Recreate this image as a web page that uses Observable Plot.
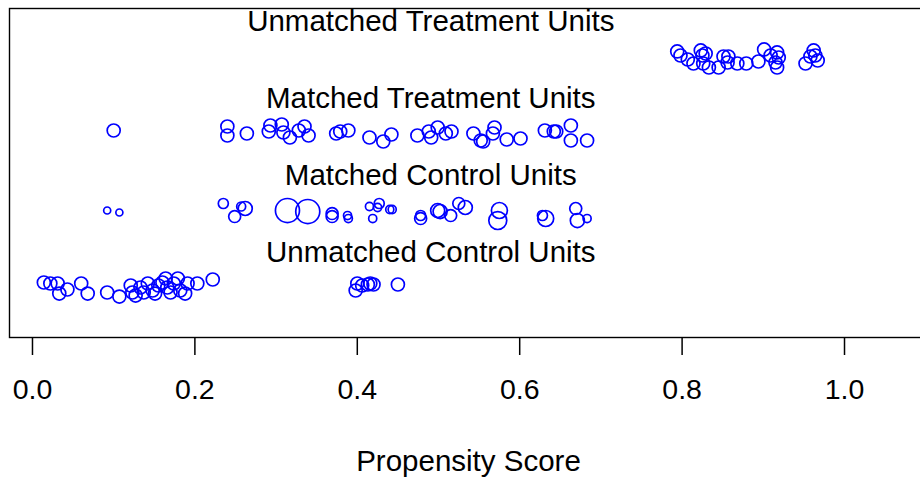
<!DOCTYPE html>
<html><head><meta charset="utf-8">
<script src="https://cdn.jsdelivr.net/npm/d3@7"></script>
<script src="https://cdn.jsdelivr.net/npm/@observablehq/plot@0.6"></script>
<style>
html,body{margin:0;padding:0;overflow:hidden;background:#fff;}
#chart svg{max-width:none !important;display:block;}
#chart svg g[aria-label="x-axis tick"] path{stroke-width:1.5;}
</style></head><body><div id="chart"></div>
<script>
const groupNames = ["Unmatched Treatment Units","Matched Treatment Units","Matched Control Units","Unmatched Control Units"];
const groupRows = [4,3,2,1];
const tickValues = [0,0.2,0.4,0.6,0.8,1.0];
const axisTitle = "Propensity Score";

// Unmatched treatment
const utX = [0.794,0.798,0.807,0.814,0.823,0.825,0.829,0.826,0.833,0.845,0.851,0.857,0.856,0.868,0.879,0.894,0.901,0.909,0.915,0.917,0.919,0.917,0.952,0.958,0.962,0.964,0.967];
const utJ = [0.078,0.026,-0.026,-0.078,0.091,0.026,0.052,-0.078,-0.130,-0.130,0.013,0.013,-0.065,-0.078,-0.078,-0.052,0.104,0.026,-0.065,0.065,0.000,-0.130,-0.078,0.013,0.091,0.026,-0.039];
// Matched treatment
const mtX = [0.100,0.240,0.240,0.264,0.291,0.293,0.307,0.309,0.317,0.328,0.335,0.340,0.374,0.379,0.389,0.415,0.432,0.442,0.474,0.488,0.491,0.499,0.509,0.516,0.543,0.552,0.555,0.567,0.569,0.584,0.601,0.631,0.642,0.645,0.663,0.663,0.683];
const mtJ = [0.052,0.104,-0.013,0.013,0.039,0.117,0.130,0.026,-0.039,0.052,0.104,-0.013,0.013,0.039,0.052,-0.039,-0.091,0.000,-0.013,0.039,-0.039,0.091,0.013,0.039,0.013,-0.078,-0.091,0.013,0.091,-0.065,-0.052,0.052,0.039,0.039,0.117,-0.078,-0.078];
// Matched control (with weights)
const mcX = [0.092,0.107,0.235,0.249,0.257,0.262,0.314,0.339,0.369,0.369,0.388,0.389,0.415,0.419,0.427,0.425,0.440,0.443,0.478,0.478,0.499,0.502,0.515,0.525,0.533,0.575,0.573,0.628,0.632,0.669,0.671,0.683];
const mcJ = [0.013,-0.013,0.104,-0.065,0.065,0.039,0.013,0.000,-0.026,-0.065,-0.052,-0.091,0.065,-0.091,0.104,0.052,0.026,0.026,-0.052,-0.091,0.013,0.000,-0.052,0.104,0.052,0.013,-0.117,-0.052,-0.091,0.039,-0.117,-0.091];
const mcW = [0.54,0.54,0.77,0.92,0.69,1.08,1.85,1.85,0.92,0.92,0.62,0.62,0.62,0.62,0.77,0.62,0.62,0.62,0.77,0.92,1.08,1.08,0.92,0.92,1.08,1.23,1.38,0.77,1.23,0.92,1.08,0.62];
// Unmatched control
const ucX = [0.014,0.022,0.031,0.033,0.043,0.060,0.068,0.092,0.107,0.121,0.123,0.127,0.133,0.137,0.142,0.148,0.151,0.155,0.160,0.164,0.166,0.170,0.174,0.179,0.182,0.188,0.191,0.203,0.222,0.398,0.400,0.406,0.413,0.416,0.420,0.450];
const ucJ = [0.078,0.065,0.065,-0.065,-0.013,0.065,-0.065,-0.052,-0.104,0.039,-0.052,-0.091,0.013,-0.052,0.065,-0.026,-0.065,0.039,0.078,0.130,0.013,-0.052,0.065,0.130,-0.026,-0.065,0.065,0.065,0.117,-0.026,0.065,0.039,0.052,0.065,0.052,0.052];

const mk = (xs, js, row, ws) => xs.map((x, i) => ({x, y: row + js[i], w: ws ? ws[i] : 1}));
const ut = mk(utX, utJ, 4), mt = mk(mtX, mtJ, 3), mc = mk(mcX, mcJ, 2, mcW), uc = mk(ucX, ucJ, 1);
const allX = [...utX, ...mtX, ...mcX, ...ucX];
const labelX = (d3.min(allX) + d3.max(allX)) / 2;
const labels = groupNames.map((t, i) => ({text: t, x: labelX, y: groupRows[i] + 0.47}));

const dotOpts = {x: "x", y: "y", stroke: "#0000ff", strokeWidth: 1.7, fill: "none"};
const font = "'Liberation Sans', Arial, Helvetica, sans-serif";

const chart = Plot.plot({
  width: 930, height: 482,
  marginLeft: 9, marginRight: 3, marginTop: 8, marginBottom: 145,
  style: {fontFamily: font, fontSize: "28.5px", color: "#000", background: "#fff", maxWidth: "none"},
  x: {domain: [-0.0283, 1.1022], ticks: tickValues, tickFormat: d3.format(".1f"), tickSize: 18, tickPadding: 23, label: null},
  y: {domain: [0.364, 4.636], axis: null},
  r: {type: "linear", domain: [0, 1], range: [0, 6.5]},
  marks: [
    Plot.frame({stroke: "#000", strokeWidth: 1.4}),
    Plot.dot(ut, {...dotOpts, r: 6.5}),
    Plot.dot(mt, {...dotOpts, r: 6.5}),
    Plot.dot(mc, {...dotOpts, r: "w"}),
    Plot.dot(uc, {...dotOpts, r: 6.5}),
    Plot.text(labels, {x: "x", y: "y", text: "text", fontSize: 29.5, fill: "#000", fontFamily: font}),
    Plot.text([axisTitle], {text: d => d, frameAnchor: "bottom", dy: 133, fontSize: 29.5, fill: "#000", fontFamily: font})
  ]
});
document.getElementById("chart").appendChild(chart);
</script></body></html>
